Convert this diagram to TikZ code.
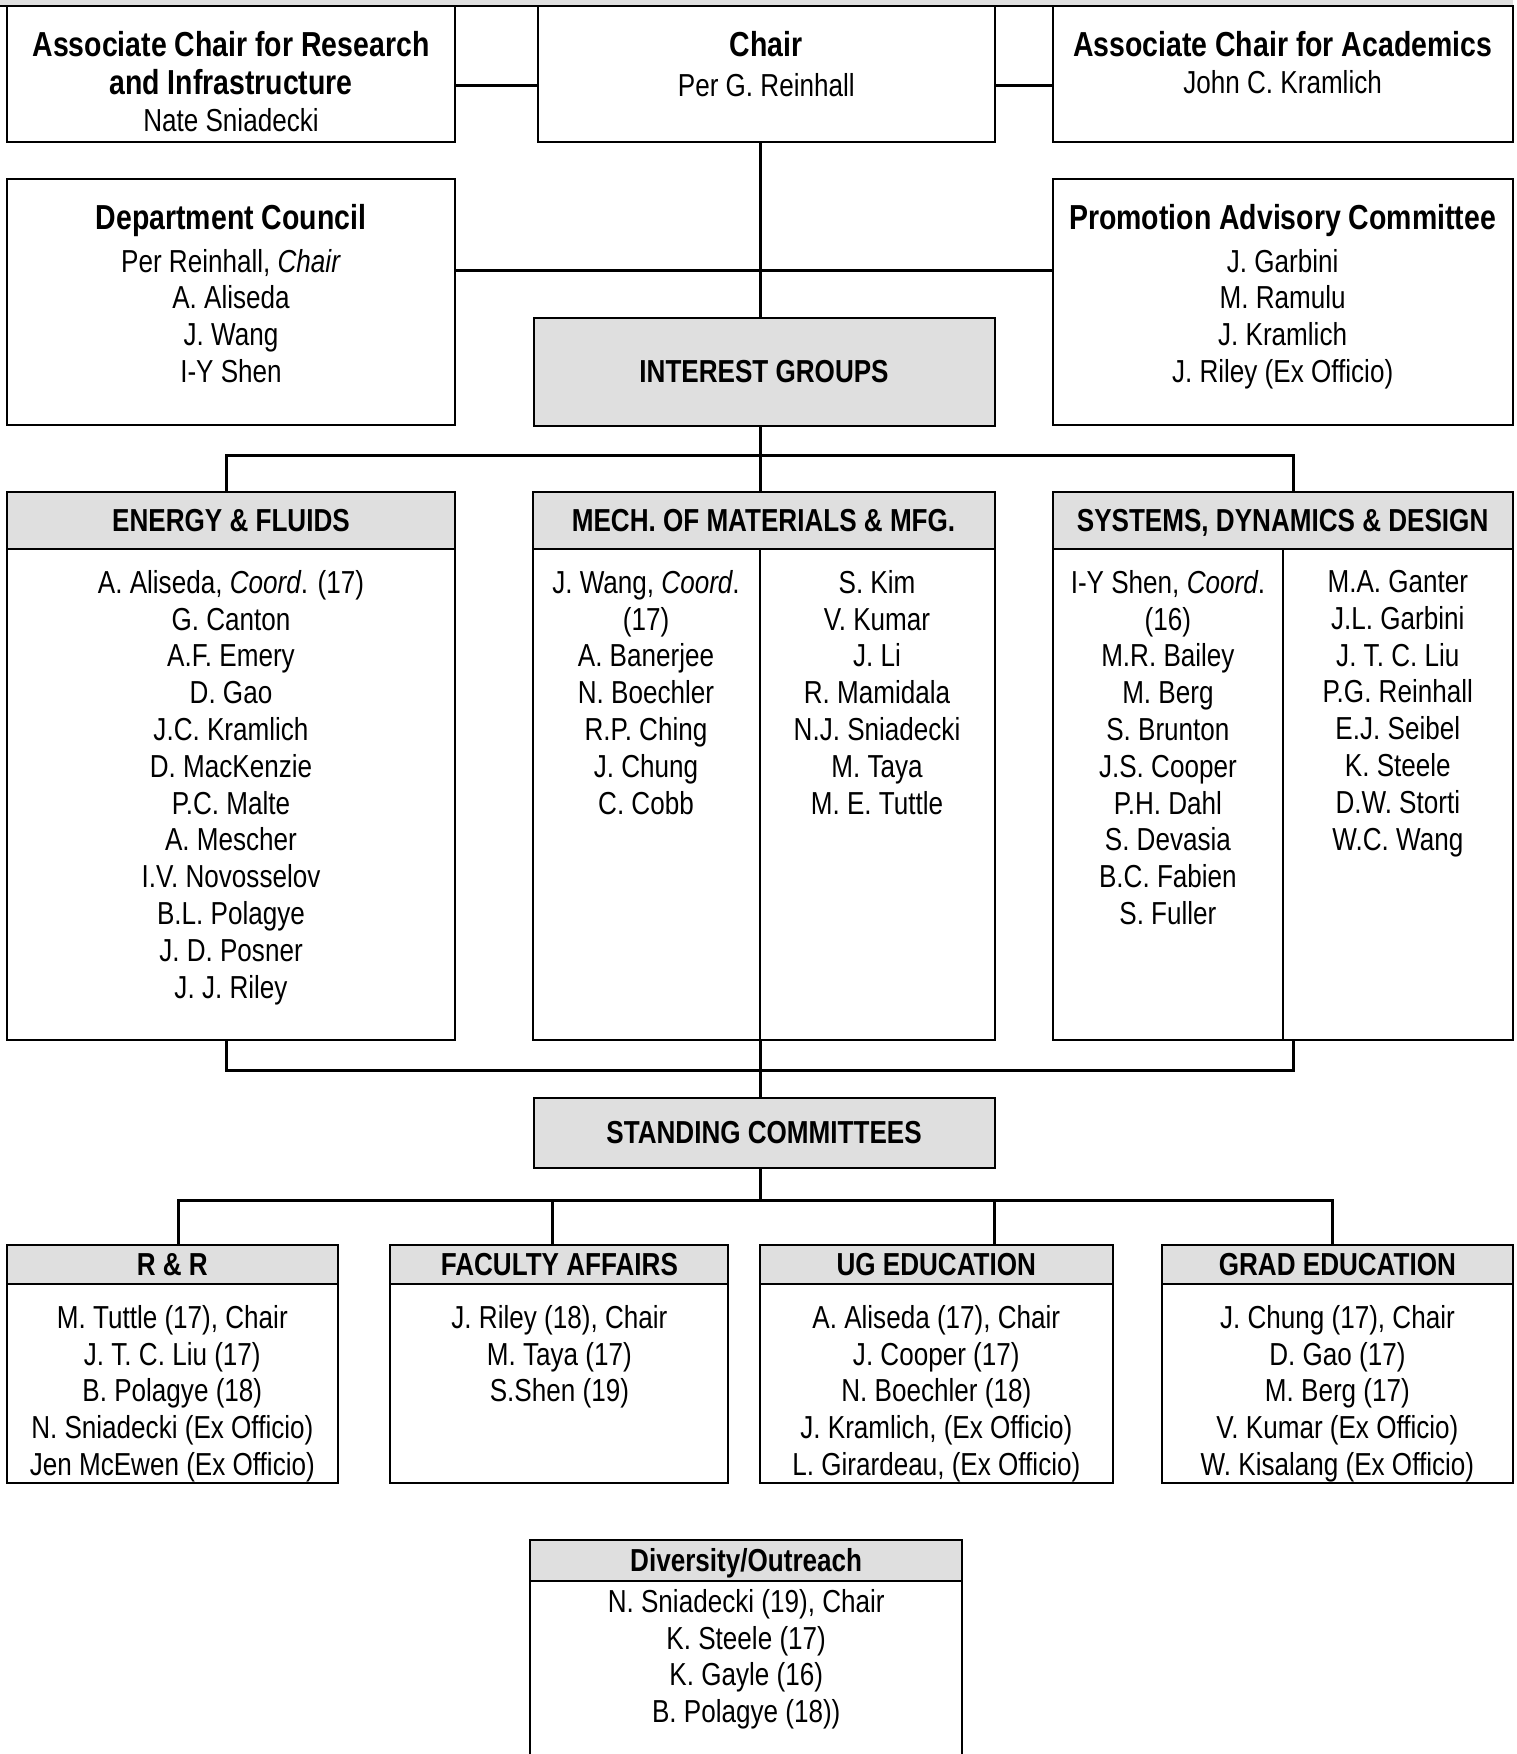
\documentclass[tikz,border=0pt]{standalone}
\usepackage{fontspec}
\setmainfont{Liberation Sans}[FakeStretch=0.82]
\usetikzlibrary{positioning}
\definecolor{boxgray}{RGB}{223,223,223}
\newcommand\hdfont{\fontsize{34.7}{38}\selectfont\bfseries}

\begin{document}
\begin{tikzpicture}[x=1pt,y=-1pt,
    box/.style={draw,line width=2pt,inner sep=0pt,outer sep=0pt,anchor=north west},
    headbox/.style={box,fill=boxgray,font=\fontsize{31.8}{36.8}\selectfont\bfseries,text height=21pt,text depth=0pt},
    link/.style={line width=3pt},
    rule/.style={line width=2pt},
    names/.style={font=\fontsize{31.8}{36.8}\selectfont,align=center,anchor=north,inner sep=0pt}]
    \useasboundingbox (0,0) rectangle (1517,1754);

    % strip at the top
    \fill[boxgray] (0,-10) rectangle (1513,5.6);
    \draw[rule] (0,5.6) -- (1513,5.6);

    % helper coordinates
    \coordinate (row1) at (0,85);
    \coordinate (row2) at (0,270);
    \coordinate (bus1) at (0,455);
    \coordinate (bus2) at (0,1070);
    \coordinate (bus3) at (0,1200);
    \coordinate (spine) at (760,0);
    \coordinate (lft) at (226,0);
    \coordinate (rgt) at (1293,0);
    \coordinate (mdiv) at (759.6,0);
    \coordinate (sdiv) at (1283,0);
    \coordinate (c1) at (178,0);
    \coordinate (c2) at (552.6,0);
    \coordinate (c3) at (994.5,0);
    \coordinate (c4) at (1332.4,0);

    % chair and associate chairs
    \node[box,minimum width=448.6pt,minimum height=136.4pt] (acr) at (6.7,5.6) {};
    \node[box,minimum width=456.5pt,minimum height=136.4pt] (chair) at (538,5.6) {};
    \node[box,minimum width=459.8pt,minimum height=136.4pt] (aca) at (1052.7,5.6) {};
    \node[names] (acrt) at (231,31) {{\hdfont Associate Chair for Research}\\[1pt]{\hdfont and Infrastructure}\\[1pt]Nate Sniadecki};
    \node[names] (chairt) at (766.3,31) {{\hdfont Chair}\\[3pt]Per G. Reinhall};
    \node[names] (acat) at (1282.6,31) {{\hdfont Associate Chair for Academics}\\John C. Kramlich};

    % council and promotion committee
    \node[box,minimum width=448.6pt,minimum height=246pt] (dc) at (6.7,179) {};
    \node[box,minimum width=459.8pt,minimum height=246pt] (pac) at (1052.7,179) {};
    \node[names] (dct) at (231,204) {{\hdfont Department Council}\\[6pt]Per Reinhall, \textit{Chair}\\A. Aliseda\\J. Wang\\I-Y Shen};
    \node[names] (pact) at (1282.6,204) {{\hdfont Promotion Advisory Committee}\\[6pt]J. Garbini\\M. Ramulu\\J. Kramlich\\J. Riley (Ex Officio)};

    % interest groups
    \node[headbox,minimum width=460.9pt,minimum height=108pt] (ig) at (533.6,318) {INTEREST GROUPS};

    \node[headbox,minimum width=448.6pt,minimum height=57pt] (efh) at (6.7,492) {ENERGY \& FLUIDS};
    \node[box,below=0pt of efh,minimum width=448.6pt,minimum height=490.5pt] (efb) {};
    \node[headbox,minimum width=462pt,minimum height=57pt] (mmh) at (532.5,492) {MECH. OF MATERIALS \& MFG.};
    \node[box,below=0pt of mmh,minimum width=462pt,minimum height=490.5pt] (mmb) {};
    \node[headbox,minimum width=459.8pt,minimum height=57pt] (sdh) at (1052.7,492) {SYSTEMS, DYNAMICS \& DESIGN};
    \node[box,below=0pt of sdh,minimum width=459.8pt,minimum height=490.5pt] (sdb) {};
    \draw[rule] (mmb.north -| mdiv) -- (mmb.south -| mdiv);
    \draw[rule] (sdb.north -| sdiv) -- (sdb.south -| sdiv);

    \node[names] (eft) at (231,570) {A. Aliseda, \textit{Coord}. (17)\\G. Canton\\A.F. Emery\\D. Gao\\J.C. Kramlich\\D. MacKenzie\\P.C. Malte\\A. Mescher\\I.V. Novosselov\\B.L. Polagye\\J. D. Posner\\J. J. Riley};
    \node[names] (mmt1) at (646,570) {J. Wang, \textit{Coord}.\\(17)\\A. Banerjee\\N. Boechler\\R.P. Ching\\J. Chung\\C. Cobb};
    \node[names] (mmt2) at (877,570) {S. Kim\\V. Kumar\\J. Li\\R. Mamidala\\N.J. Sniadecki\\M. Taya\\M. E. Tuttle};
    \node[names] (sdt1) at (1167.9,570) {I-Y Shen, \textit{Coord}.\\(16)\\M.R. Bailey\\M. Berg\\S. Brunton\\J.S. Cooper\\P.H. Dahl\\S. Devasia\\B.C. Fabien\\S. Fuller};
    \node[names] (sdt2) at (1397.8,570) {M.A. Ganter\\J.L. Garbini\\J. T. C. Liu\\P.G. Reinhall\\E.J. Seibel\\K. Steele\\D.W. Storti\\W.C. Wang};

    % standing committees
    \node[headbox,minimum width=460.9pt,minimum height=70pt] (st) at (533.6,1098) {STANDING COMMITTEES};

    \node[headbox,minimum width=331.1pt,minimum height=39pt] (rrh) at (6.7,1245) {R \& R};
    \node[box,below=0pt of rrh,minimum width=331.1pt,minimum height=199pt] (rrb) {};
    \node[headbox,minimum width=337.9pt,minimum height=39pt] (fah) at (390.4,1245) {FACULTY AFFAIRS};
    \node[box,below=0pt of fah,minimum width=337.9pt,minimum height=199pt] (fab) {};
    \node[headbox,minimum width=353.4pt,minimum height=39pt] (ugh) at (759.6,1245) {UG EDUCATION};
    \node[box,below=0pt of ugh,minimum width=353.4pt,minimum height=199pt] (ugb) {};
    \node[headbox,minimum width=350.2pt,minimum height=39pt] (geh) at (1162.3,1245) {GRAD EDUCATION};
    \node[box,below=0pt of geh,minimum width=350.2pt,minimum height=199pt] (geb) {};

    \node[names] (rrt) at (172.3,1305) {M. Tuttle (17), Chair\\J. T. C. Liu (17)\\B. Polagye (18)\\N. Sniadecki (Ex Officio)\\Jen McEwen (Ex Officio)};
    \node[names] (fat) at (559.4,1305) {J. Riley (18), Chair\\M. Taya (17)\\S.Shen (19)};
    \node[names] (ugt) at (936.3,1305) {A. Aliseda (17), Chair\\J. Cooper (17)\\N. Boechler (18)\\J. Kramlich, (Ex Officio)\\L. Girardeau, (Ex Officio)};
    \node[names] (get) at (1337.4,1305) {J. Chung (17), Chair\\D. Gao (17)\\M. Berg (17)\\V. Kumar (Ex Officio)\\W. Kisalang (Ex Officio)};

    % diversity
    \node[headbox,minimum width=431.7pt,minimum height=41pt] (doh) at (530.3,1540) {Diversity/Outreach};
    \node[box,below=0pt of doh,minimum width=431.7pt,minimum height=260pt] (dob) {};
    \node[names] (dot) at (746.2,1589) {N. Sniadecki (19), Chair\\K. Steele (17)\\K. Gayle (16)\\B. Polagye (18))};

    % connectors
    \draw[link] (acr.east |- row1) -- (chair.west |- row1);
    \draw[link] (chair.east |- row1) -- (aca.west |- row1);
    \draw[link] (chair.south -| spine) -- (ig.north -| spine);
    \draw[link] (dc.east |- row2) -- (pac.west |- row2);
    \draw[link] (ig.south -| spine) -- (mmh.north -| spine);
    \draw[link] (efh.north -| lft) -- (lft |- bus1) -- (rgt |- bus1) -- (sdh.north -| rgt);
    \draw[link] (efb.south -| lft) -- (lft |- bus2) -- (rgt |- bus2) -- (sdb.south -| rgt);
    \draw[link] (mmb.south -| spine) -- (st.north -| spine);
    \draw[link] (st.south -| spine) -- (spine |- bus3);
    \draw[link] (rrh.north -| c1) -- (c1 |- bus3) -- (c4 |- bus3) -- (geh.north -| c4);
    \draw[link] (fah.north -| c2) -- (c2 |- bus3);
    \draw[link] (ugh.north -| c3) -- (c3 |- bus3);
\end{tikzpicture}
\end{document}
